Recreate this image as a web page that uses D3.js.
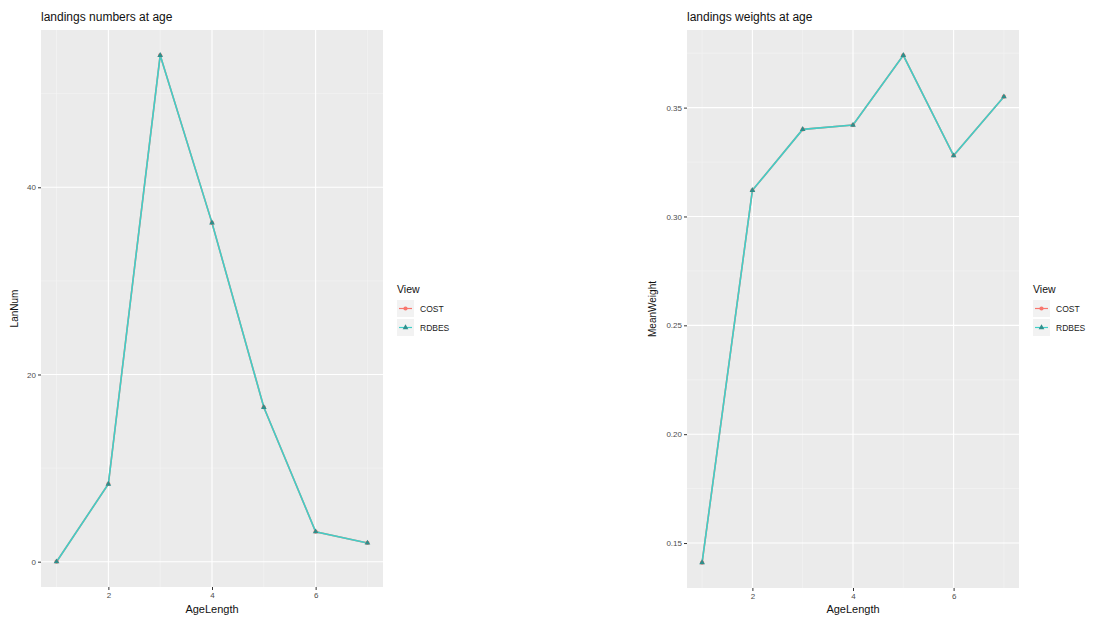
<!DOCTYPE html>
<html>
<head>
<meta charset="utf-8">
<script src="https://cdn.jsdelivr.net/npm/d3@7"></script>
<style>
  body { margin: 0; background: #fff; }
  text { font-family: "Liberation Sans", Arial, sans-serif; }
</style>
</head>
<body>
<svg id="chart" width="1097" height="619"></svg>
<script>
// data
var ages = [1, 2, 3, 4, 5, 6, 7];
var views = ["COST", "RDBES"];
var lanNum = [0, 8.3, 54.1, 36.2, 16.5, 3.2, 2.0];
var meanWeight = [0.141, 0.312, 0.340, 0.342, 0.374, 0.328, 0.355];
var xTicks = [2, 4, 6];
var lanNumTicks = [0, 20, 40];
var meanWeightTicks = [0.15, 0.20, 0.25, 0.30, 0.35];

var viewColour = { "COST": "#F8766D", "RDBES": "#3FCFC8" };
var pointColour = { "COST": "#F8766D", "RDBES": "#2F8F8C" };

var svg = d3.select("#chart");

function drawPanel(opts) {
    var g = svg.append("g");
    var values = opts.values;

    var x = d3.scaleLinear()
        .domain([0.7, 7.3])
        .range([opts.left, opts.right]);

    var ext = d3.extent(values);
    var pad = (ext[1] - ext[0]) * 0.05;
    var y = d3.scaleLinear()
        .domain([ext[0] - pad, ext[1] + pad])
        .range([opts.bottom, opts.top]);

    // panel background
    g.append("rect")
        .attr("x", opts.left)
        .attr("y", opts.top)
        .attr("width", opts.right - opts.left)
        .attr("height", opts.bottom - opts.top)
        .attr("fill", "#EBEBEB");

    // minor grid
    var yt = opts.yTicks;
    var step = yt[1] - yt[0];
    var yMinor = [];
    for (var i = -1; i < yt.length; i++) {
        var v = (i < 0 ? yt[0] - step / 2 : yt[i] + step / 2);
        if (v > y.domain()[0] && v < y.domain()[1]) yMinor.push(v);
    }
    var xMinor = [1, 3, 5, 7];

    g.selectAll(".yminor").data(yMinor).enter().append("line")
        .attr("x1", opts.left).attr("x2", opts.right)
        .attr("y1", d => y(d)).attr("y2", d => y(d))
        .attr("stroke", "#F5F5F5").attr("stroke-width", 0.6);
    g.selectAll(".xminor").data(xMinor).enter().append("line")
        .attr("y1", opts.top).attr("y2", opts.bottom)
        .attr("x1", d => x(d)).attr("x2", d => x(d))
        .attr("stroke", "#F5F5F5").attr("stroke-width", 0.6);

    // major grid
    g.selectAll(".ymajor").data(yt).enter().append("line")
        .attr("x1", opts.left).attr("x2", opts.right)
        .attr("y1", d => y(d)).attr("y2", d => y(d))
        .attr("stroke", "#fff").attr("stroke-width", 1.1);
    g.selectAll(".xmajor").data(xTicks).enter().append("line")
        .attr("y1", opts.top).attr("y2", opts.bottom)
        .attr("x1", d => x(d)).attr("x2", d => x(d))
        .attr("stroke", "#fff").attr("stroke-width", 1.1);

    // axes
    var xAxis = g.append("g")
        .attr("transform", "translate(0," + opts.bottom + ")")
        .call(d3.axisBottom(x).tickValues(xTicks).tickSize(3).tickPadding(2).tickFormat(d3.format("d")));
    var yAxis = g.append("g")
        .attr("transform", "translate(" + opts.left + ",0)")
        .call(d3.axisLeft(y).tickValues(yt).tickSize(3).tickPadding(2).tickFormat(opts.fmt));
    [xAxis, yAxis].forEach(function (a) {
        a.select(".domain").remove();
        a.selectAll(".tick line").attr("stroke", "#333");
        a.selectAll(".tick text")
            .attr("fill", "#4D4D4D")
            .attr("font-size", 8)
            .attr("font-family", "Liberation Sans, Arial, sans-serif");
    });

    // lines and points, COST first then RDBES on top (same values)
    var line = d3.line()
        .x((d, i) => x(ages[i]))
        .y(d => y(d));

    views.forEach(function (v) {
        g.append("path")
            .datum(values)
            .attr("d", line)
            .attr("fill", "none")
            .attr("stroke", viewColour[v])
            .attr("stroke-width", 1.6);
    });
    views.forEach(function (v) {
        var sym = d3.symbol().type(v === "COST" ? d3.symbolCircle : d3.symbolTriangle).size(14);
        g.selectAll(".pt" + v).data(values).enter().append("path")
            .attr("d", sym)
            .attr("transform", (d, i) => "translate(" + x(ages[i]) + "," + y(d) + ")")
            .attr("fill", pointColour[v]);
    });

    // title and axis titles
    g.append("text")
        .attr("x", opts.left)
        .attr("y", 21)
        .attr("font-size", 12)
        .attr("fill", "#111")
        .text(opts.title);
    g.append("text")
        .attr("x", (opts.left + opts.right) / 2)
        .attr("y", 613)
        .attr("text-anchor", "middle")
        .attr("font-size", 11)
        .attr("fill", "#111")
        .text("AgeLength");
    g.append("text")
        .attr("transform", "translate(" + opts.ylabX + "," + ((opts.top + opts.bottom) / 2) + ") rotate(-90)")
        .attr("text-anchor", "middle")
        .attr("font-size", 10)
        .attr("fill", "#111")
        .text(opts.ylab);

    // legend
    var lg = g.append("g").attr("transform", "translate(" + opts.legX + ",283)");
    lg.append("text")
        .attr("x", 0).attr("y", 10)
        .attr("font-size", 10.5)
        .attr("fill", "#111")
        .text("View");
    views.forEach(function (v, i) {
        var ky = 17 + i * 19;
        lg.append("rect")
            .attr("x", 0).attr("y", ky)
            .attr("width", 17).attr("height", 17)
            .attr("fill", "#F2F2F2");
        lg.append("line")
            .attr("x1", 2).attr("x2", 15)
            .attr("y1", ky + 8.5).attr("y2", ky + 8.5)
            .attr("stroke", viewColour[v]).attr("stroke-width", 1.2);
        lg.append("path")
            .attr("d", d3.symbol().type(v === "COST" ? d3.symbolCircle : d3.symbolTriangle).size(14))
            .attr("transform", "translate(8.5," + (ky + 8.5) + ")")
            .attr("fill", pointColour[v]);
        lg.append("text")
            .attr("x", 23).attr("y", ky + 11.5)
            .attr("font-size", 8.5)
            .attr("fill", "#222")
            .text(v);
    });
}

drawPanel({
    values: lanNum,
    left: 41, right: 383, top: 30, bottom: 587,
    yTicks: lanNumTicks,
    fmt: d3.format("d"),
    title: "landings numbers at age",
    ylab: "LanNum",
    ylabX: 18,
    legX: 397
});

drawPanel({
    values: meanWeight,
    left: 687, right: 1019, top: 30, bottom: 588,
    yTicks: meanWeightTicks,
    fmt: d3.format(".2f"),
    title: "landings weights at age",
    ylab: "MeanWeight",
    ylabX: 656,
    legX: 1033
});
</script>
</body>
</html>
